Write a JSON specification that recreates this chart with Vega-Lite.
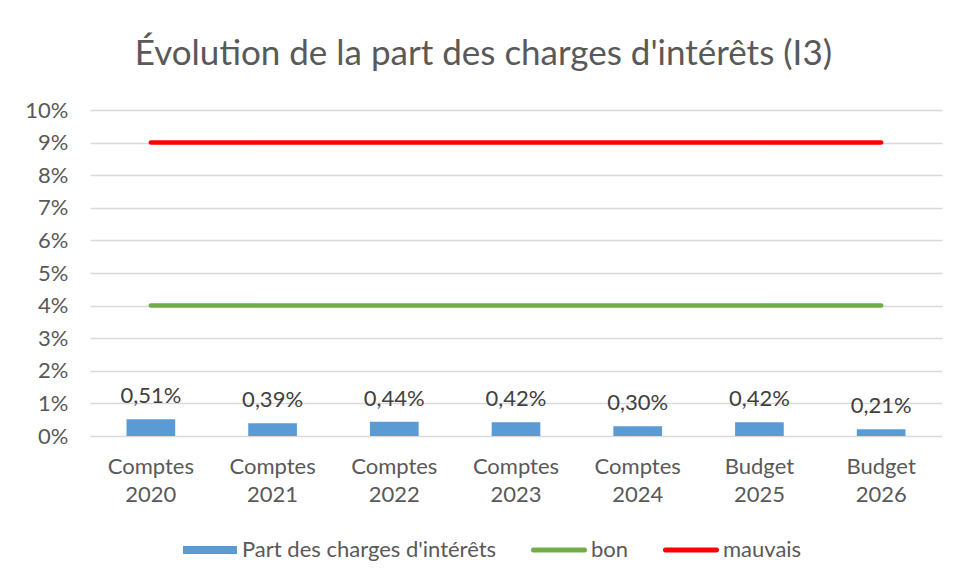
{
  "$schema": "https://vega.github.io/schema/vega-lite/v6.json",
  "width": 852,
  "height": 326,
  "autosize": {"type": "none"},
  "padding": {"left": 90, "top": 110, "right": 16, "bottom": 143},
  "background": "white",
  "title": {
    "text": "Évolution de la part des charges d'intérêts (I3)",
    "fontSize": 35,
    "font": "Lato",
    "fontWeight": "normal",
    "color": "#595959",
    "anchor": "middle",
    "frame": "bounds",
    "offset": 27
  },
  "data": {
    "values": [
      {"cat": "Comptes 2020", "value": 0.51, "bon": 4, "mauvais": 9},
      {"cat": "Comptes 2021", "value": 0.39, "bon": 4, "mauvais": 9},
      {"cat": "Comptes 2022", "value": 0.44, "bon": 4, "mauvais": 9},
      {"cat": "Comptes 2023", "value": 0.42, "bon": 4, "mauvais": 9},
      {"cat": "Comptes 2024", "value": 0.30, "bon": 4, "mauvais": 9},
      {"cat": "Budget 2025", "value": 0.42, "bon": 4, "mauvais": 9},
      {"cat": "Budget 2026", "value": 0.21, "bon": 4, "mauvais": 9}
    ]
  },
  "encoding": {
    "x": {
      "field": "cat",
      "type": "nominal",
      "sort": null,
      "scale": {"paddingInner": 0, "paddingOuter": 0},
      "axis": {
        "title": null,
        "labelAngle": 0,
        "labelExpr": "split(datum.label, ' ')",
        "labelFontSize": 22,
        "labelFont": "Lato",
        "labelColor": "#595959",
        "labelLineHeight": 28,
        "labelPadding": 20,
        "labelBaseline": "top",
        "domain": false,
        "ticks": false,
        "grid": false
      }
    },
    "y": {
      "field": "value",
      "type": "quantitative",
      "scale": {"domain": [0, 10], "nice": false},
      "axis": {
        "title": null,
        "values": [0, 1, 2, 3, 4, 5, 6, 7, 8, 9, 10],
        "tickCount": 20,
        "labelExpr": "datum.value + '%'",
        "labelOverlap": false,
        "labelFontSize": 22,
        "labelFont": "Lato",
        "labelColor": "#595959",
        "labelPadding": 22,
        "grid": true,
        "gridColor": "#D9D9D9",
        "gridWidth": 1.5,
        "domain": false,
        "ticks": false
      }
    }
  },
  "layer": [
    {
      "mark": {"type": "bar", "width": {"band": 0.4}},
      "encoding": {
        "color": {
          "datum": "Part des charges d'intérêts",
          "type": "nominal",
          "title": null,
          "scale": {
            "domain": ["Part des charges d'intérêts", "bon", "mauvais"],
            "range": ["#5B9BD5", "#70AD47", "#FF0000"]
          },
          "legend": {
            "title": null,
            "orient": "none",
            "legendX": 93,
            "legendY": 413,
            "direction": "horizontal",
            "labelFontSize": 22,
            "labelFont": "Lato",
            "labelColor": "#595959",
            "labelLimit": 400,
            "labelOffset": 5,
            "columnPadding": 33,
            "symbolSize": 2916,
            "symbolType": "M-1,-0.15H1V0.15H-1Z",
            "symbolStrokeWidth": 0,
            "encode": {
              "symbols": {
                "update": {
                  "fill": {"scale": "color", "field": "value"},
                  "stroke": {"value": "transparent"},
                  "shape": {"signal": "datum.value === 'Part des charges d\\'intérêts' ? 'M-1,-0.15H1V0.15H-1Z' : 'M-0.95,-0.09H0.95A0.09,0.09 0 0 1 0.95,0.09H-0.95A0.09,0.09 0 0 1 -0.95,-0.09Z'"}
                }
              }
            }
          }
        }
      }
    },
    {
      "mark": {
        "type": "text",
        "fontSize": 22,
        "font": "Lato",
        "color": "#404040",
        "baseline": "alphabetic",
        "dy": -16,
        "text": {"expr": "replace(format(datum.value, '.2f'), '.', ',') + '%'"}
      }
    },
    {
      "transform": [{"fold": ["bon", "mauvais"], "as": ["serie", "seuil"]}],
      "mark": {"type": "line", "strokeWidth": 4.5, "strokeCap": "round"},
      "encoding": {
        "y": {"field": "seuil", "type": "quantitative"},
        "color": {"field": "serie", "type": "nominal", "title": null}
      }
    }
  ],
  "resolve": {"scale": {"color": "shared"}},
  "config": {
    "view": {"stroke": null},
    "font": "Lato"
  }
}
